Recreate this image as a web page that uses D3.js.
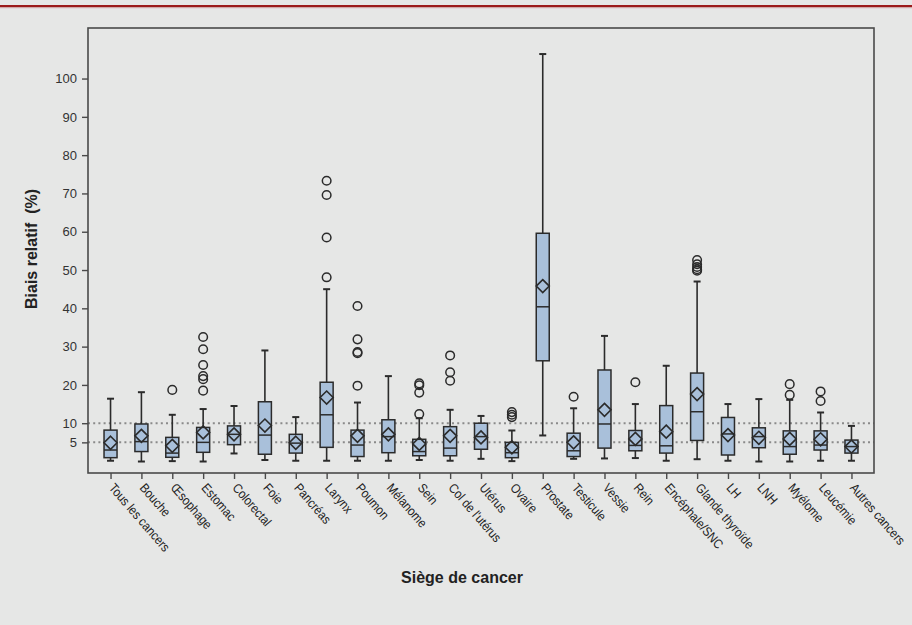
<!DOCTYPE html>
<html>
<head>
<meta charset="utf-8">
<script src="https://cdn.jsdelivr.net/npm/d3@7"></script>
<style>
  html, body { margin: 0; padding: 0; background: #e6e7e6; }
  svg { display: block; }
  .pre { white-space: pre; }
</style>
</head>
<body>
<svg id="chart" width="912" height="625"></svg>
<script>
// Relative bias (%) by cancer site: box plot summaries
const categories = ["Tous les cancers", "Bouche", "Œsophage", "Estomac", "Colorectal", "Foie",
  "Pancréas", "Larynx", "Poumon", "Mélanome", "Sein", "Col de l'utérus", "Utérus", "Ovaire",
  "Prostate", "Testicule", "Vessie", "Rein", "Encéphale/SNC", "Glande thyroïde", "LH", "LNH",
  "Myélome", "Leucémie", "Autres cancers"];

const whiskerLow  = [0.2, 0.0, 0.1, 0.0, 2.1, 0.4, 0.2, 0.2, 0.2, 0.2, 0.4, 0.2, 0.7, 0.1,
  6.8, 0.7, 0.8, 0.9, 0.2, 0.6, 0.2, 0.0, 0.0, 0.2, 0.2];
const q1          = [1.0, 2.6, 1.1, 2.4, 4.4, 1.9, 2.2, 3.7, 1.3, 2.3, 1.5, 1.5, 3.2, 1.0,
  26.3, 1.3, 3.5, 2.8, 2.2, 5.5, 1.7, 3.6, 1.9, 3.0, 2.2];
const medians     = [3.0, 5.2, 2.2, 5.0, 7.1, 6.9, 4.8, 12.2, 4.3, 6.5, 2.6, 3.5, 6.5, 2.3,
  40.4, 2.8, 9.8, 4.2, 4.1, 13.0, 7.2, 6.5, 3.9, 4.3, 3.9];
const q3          = [8.2, 9.8, 6.3, 8.9, 9.3, 15.6, 7.1, 20.7, 8.2, 10.9, 5.8, 9.1, 10.0, 5.0,
  59.6, 7.4, 23.9, 8.1, 14.6, 23.1, 11.5, 8.8, 8.0, 8.0, 5.6];
const whiskerHigh = [16.4, 18.1, 12.2, 13.7, 14.5, 29.0, 11.6, 45.0, 15.4, 22.3, 11.3, 13.5, 11.9, 8.1,
  106.4, 13.9, 32.8, 15.0, 25.0, 47.0, 15.0, 16.3, 16.1, 12.8, 9.3];
const means       = [4.9, 6.7, 4.1, 7.6, 7.1, 9.4, 4.9, 16.7, 6.7, 7.1, 4.6, 6.7, 6.3, 3.7,
  45.8, 5.0, 13.5, 5.9, 7.8, 17.6, 6.9, 6.2, 5.9, 5.8, 3.9];
const outliers = [
  [], [], [18.7], [32.5, 29.3, 25.2, 22.3, 21.5, 18.5], [], [], [],
  [73.3, 69.6, 58.5, 48.1], [40.6, 31.9, 28.6, 28.3, 19.8], [],
  [20.4, 19.9, 18.0, 12.4], [27.7, 23.3, 21.1], [], [12.9, 12.2, 11.6],
  [], [16.9], [], [20.7], [], [52.6, 51.5, 50.8, 50.2, 49.8], [], [],
  [20.2, 17.4], [18.3, 15.8], []
];
const yTicks = [5, 10, 20, 30, 40, 50, 60, 70, 80, 90, 100];
const refLines = [5, 10];

const svg = d3.select("#chart");
const W = 912, H = 625;
const plot = { left: 88, right: 874, top: 28, bottom: 473 };

const sans = "'Liberation Sans', Arial, sans-serif";

// page background and red top rule
svg.append("rect").attr("width", W).attr("height", H).attr("fill", "#e6e7e6");
svg.append("rect").attr("x", 0).attr("y", 5).attr("width", W).attr("height", 2.2).attr("fill", "#9b1a1a");
svg.append("rect").attr("x", 0).attr("y", 7.2).attr("width", W).attr("height", 1).attr("fill", "#cfa3a3");

const x = d3.scalePoint().domain(categories).range([plot.left, plot.right]).padding(0.73);
const y = d3.scaleLinear().domain([-3, 113.2]).range([plot.bottom, plot.top]);

const ink = "#2b2b2b";
const boxW = 13, capW = 7;

// dotted reference lines at 5 % and 10 %
svg.append("g").selectAll("line").data(refLines).join("line")
  .attr("x1", plot.left).attr("x2", plot.right)
  .attr("y1", d => y(d)).attr("y2", d => y(d))
  .attr("stroke", "#8a8a8a").attr("stroke-width", 2)
  .attr("stroke-dasharray", "2,3.2");

// boxes
const data = categories.map((c, i) => ({
  c, lo: whiskerLow[i], q1: q1[i], med: medians[i], q3: q3[i], hi: whiskerHigh[i],
  mean: means[i], out: outliers[i]
}));

const g = svg.append("g").selectAll("g").data(data).join("g")
  .attr("transform", d => `translate(${x(d.c)},0)`);

// whiskers
g.append("line").attr("x1", 0).attr("x2", 0)
  .attr("y1", d => y(d.hi)).attr("y2", d => y(d.q3))
  .attr("stroke", ink).attr("stroke-width", 1.6);
g.append("line").attr("x1", 0).attr("x2", 0)
  .attr("y1", d => y(d.q1)).attr("y2", d => y(d.lo))
  .attr("stroke", ink).attr("stroke-width", 1.6);
g.append("line").attr("x1", -capW / 2).attr("x2", capW / 2)
  .attr("y1", d => y(d.hi)).attr("y2", d => y(d.hi))
  .attr("stroke", ink).attr("stroke-width", 2);
g.append("line").attr("x1", -capW / 2).attr("x2", capW / 2)
  .attr("y1", d => y(d.lo)).attr("y2", d => y(d.lo))
  .attr("stroke", ink).attr("stroke-width", 2);

// interquartile box
g.append("rect").attr("x", -boxW / 2).attr("width", boxW)
  .attr("y", d => y(d.q3)).attr("height", d => y(d.q1) - y(d.q3))
  .attr("fill", "#a9c0da").attr("stroke", ink).attr("stroke-width", 1.5);

// median
g.append("line").attr("x1", -boxW / 2).attr("x2", boxW / 2)
  .attr("y1", d => y(d.med)).attr("y2", d => y(d.med))
  .attr("stroke", ink).attr("stroke-width", 1.5);

// mean diamond
const dm = 6.5;
g.append("path")
  .attr("d", d => { const cy = y(d.mean); return `M0,${cy - dm}L${dm},${cy}L0,${cy + dm}L${-dm},${cy}Z`; })
  .attr("fill", "none").attr("stroke", ink).attr("stroke-width", 1.6);

// outliers
g.selectAll("circle").data(d => d.out).join("circle")
  .attr("cx", 0).attr("cy", v => y(v)).attr("r", 4.3)
  .attr("fill", "none").attr("stroke", ink).attr("stroke-width", 1.5);

// frame
svg.append("rect").attr("x", plot.left).attr("y", plot.top)
  .attr("width", plot.right - plot.left).attr("height", plot.bottom - plot.top)
  .attr("fill", "none").attr("stroke", "#4a4a4a").attr("stroke-width", 1.6);

// y axis
const yAxis = svg.append("g").attr("transform", `translate(${plot.left},0)`)
  .call(d3.axisLeft(y).tickValues(yTicks).tickSize(6).tickPadding(5));
yAxis.select(".domain").remove();
yAxis.selectAll("line").attr("stroke", "#4a4a4a").attr("stroke-width", 1.4);
yAxis.selectAll("text").attr("font-family", sans)
  .attr("font-size", 13).attr("fill", "#333");

// x axis ticks and slanted, narrowed labels
const xAxis = svg.append("g").attr("transform", `translate(0,${plot.bottom})`)
  .call(d3.axisBottom(x).tickSize(6).tickFormat(""));
xAxis.select(".domain").remove();
xAxis.selectAll("line").attr("stroke", "#4a4a4a").attr("stroke-width", 1.4);

svg.append("g").selectAll("text").data(categories).join("text")
  .attr("transform", d => `translate(${x(d)},${plot.bottom + 11}) rotate(49) scale(0.88,1)`)
  .attr("x", 2).attr("dy", "0.35em")
  .attr("text-anchor", "start")
  .attr("font-family", sans).attr("font-size", 13).attr("fill", "#222")
  .text(d => d);

// axis titles
svg.append("text").attr("x", 462).attr("y", 583).attr("text-anchor", "middle")
  .attr("font-family", sans).attr("font-weight", "bold").attr("font-size", 16)
  .attr("fill", "#222").text("Siège de cancer");

svg.append("text").attr("transform", "translate(37,249) rotate(-90)")
  .attr("class", "pre")
  .attr("text-anchor", "middle")
  .attr("font-family", sans).attr("font-weight", "bold").attr("font-size", 16)
  .attr("fill", "#222").text("Biais relatif  (%)");
</script>
</body>
</html>
